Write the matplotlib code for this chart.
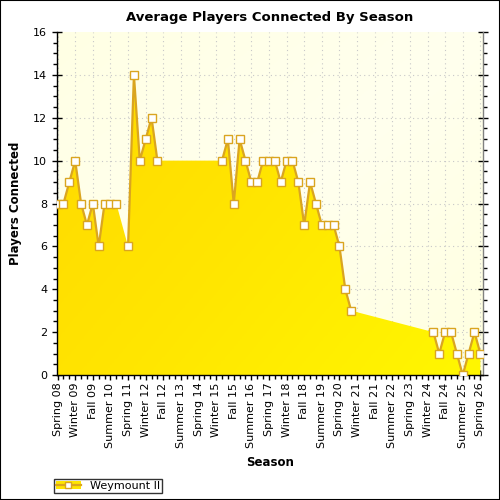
import numpy as np
import matplotlib
matplotlib.use("Agg")
import matplotlib.pyplot as plt
from matplotlib.patches import Rectangle, Patch
from matplotlib.lines import Line2D
from matplotlib.colors import LinearSegmentedColormap

seasons = [
    "Spring 08", "Summer 08", "Fall 08", "Winter 09",
    "Spring 09", "Summer 09", "Fall 09", "Winter 10",
    "Spring 10", "Summer 10", "Fall 10", "Winter 11",
    "Spring 11", "Summer 11", "Fall 11", "Winter 12",
    "Spring 12", "Summer 12", "Fall 12", "Winter 13",
    "Spring 13", "Summer 13", "Fall 13", "Winter 14",
    "Spring 14", "Summer 14", "Fall 14", "Winter 15",
    "Spring 15", "Summer 15", "Fall 15", "Winter 16",
    "Spring 16", "Summer 16", "Fall 16", "Winter 17",
    "Spring 17", "Summer 17", "Fall 17", "Winter 18",
    "Spring 18", "Summer 18", "Fall 18", "Winter 19",
    "Spring 19", "Summer 19", "Fall 19", "Winter 20",
    "Spring 20", "Summer 20", "Fall 20", "Winter 21",
    "Spring 21", "Summer 21", "Fall 21", "Winter 22",
    "Spring 22", "Summer 22", "Fall 22", "Winter 23",
    "Spring 23", "Summer 23", "Fall 23", "Winter 24",
    "Spring 24", "Summer 24", "Fall 24", "Winter 25",
    "Spring 25", "Summer 25", "Fall 25", "Winter 26",
    "Spring 26",
]

players = [
    8, 8, 9, 10, 8, 7, 8, 6, 8, 8, 8, None,
    6, 14, 10, 11, 12, 10, None, None, None, None, None, None,
    None, None, None, None, 10, 11, 8, 11, 10, 9, 9, 10,
    10, 10, 9, 10, 10, 9, 7, 9, 8, 7, 7, 7,
    6, 4, 3, None, None, None, None, None, None, None, None, None,
    None, None, None, None, 2, 1, 2, 2, 1, 0, 1, 2,
    1,
]

series_name = "Weymount II"
title = "Average Players Connected By Season"
xlabel = "Season"
ylabel = "Players Connected"

x = np.arange(len(seasons), dtype=float)
y = np.array([np.nan if v is None else v for v in players], dtype=float)
valid = ~np.isnan(y)

fig = plt.figure(figsize=(5, 5), dpi=100)
fig.patch.set_facecolor("white")
ax = fig.add_axes([57 / 500, 125 / 500, 426 / 500, 343 / 500])

xmin, xmax = -0.1, 72.45
ymin, ymax = 0, 16
ax.set_xlim(xmin, xmax)
ax.set_ylim(ymin, ymax)

# background gradient
bg_cmap = LinearSegmentedColormap.from_list("bg", ["#FFFFE4", "#FFFFEE", "#FFFFE0"])
gx, gy = np.meshgrid(np.linspace(0, 1, 200), np.linspace(0, 1, 200))
ax.imshow(gx * 0.5 + gy * 0.5, cmap=bg_cmap, extent=[xmin, xmax, ymin, ymax],
          aspect="auto", origin="upper", zorder=0)

# grid
for t in range(0, len(seasons), 3):
    ax.axvline(t, color="#C8C8C8", lw=0.8, ls=(0, (1, 3)), zorder=1)
for t in range(2, 16, 2):
    ax.axhline(t, color="#C8C8C8", lw=0.8, ls=(0, (1, 3)), zorder=1)

# area with gradient fill
poly = ax.fill_between(x[valid], y[valid], 0, color="none", lw=0, zorder=2)
fill_cmap = LinearSegmentedColormap.from_list("fill", ["#FFD800", "#FFE600", "#FFF700"])
img = ax.imshow(gx * 0.6 + (1 - gy) * 0.4, cmap=fill_cmap,
                extent=[xmin, xmax, ymin, ymax], aspect="auto", origin="lower", zorder=2)
img.set_clip_path(poly.get_paths()[0], transform=ax.transData)

# line + markers
ax.plot(x, y, color="#DAA520", lw=1.6, zorder=3, solid_joinstyle="miter")
ax.plot(x[valid], y[valid], ls="none", marker="s", ms=5.2, mfc="white",
        mec="#DAA520", mew=1.0, zorder=4)

# ticks
ax.set_xticks(np.arange(0, len(seasons), 3))
ax.set_xticklabels(seasons[::3], rotation=90, fontsize=8)
ax.set_xticks(np.arange(0, len(seasons)), minor=True)
ax.set_yticks(np.arange(0, 17, 2))
ax.set_yticklabels([str(v) for v in range(0, 17, 2)], fontsize=8)
ax.set_yticks(np.arange(0, 16.01, 0.5), minor=True)
ax.tick_params(axis="both", which="major", direction="inout", length=7, width=1, color="black")
ax.tick_params(axis="both", which="minor", direction="out", length=3, width=1, color="black")
ax.tick_params(axis="y", which="both", right=True)
ax.tick_params(axis="x", which="major", pad=2)

ax.spines["top"].set_visible(False)
for s in ["left", "bottom", "right"]:
    ax.spines[s].set_color("black")
    ax.spines[s].set_linewidth(1)
ax.spines["right"].set_color("#808080")

ax.set_title(title, fontsize=9.5, fontweight="bold", pad=8)
ax.set_xlabel(xlabel, fontsize=8.5, fontweight="bold", labelpad=6)
ax.set_ylabel(ylabel, fontsize=8.5, fontweight="bold", labelpad=8)

# legend
patch = Patch(facecolor="#FFE600", edgecolor="none")
line = Line2D([], [], color="#DAA520", lw=1.6, marker="s", ms=4.6, mfc="white",
              mec="#DAA520", mew=1.0)
leg = fig.legend(handles=[(patch, line)], labels=[series_name], loc="lower left",
                 bbox_to_anchor=(54 / 500, 7 / 500), fontsize=8, frameon=True,
                 fancybox=False, borderpad=0.2, handlelength=2.2, handletextpad=0.8,
                 borderaxespad=0)
leg.get_frame().set_edgecolor("black")
leg.get_frame().set_linewidth(1)

# figure border
fig.add_artist(Rectangle((0, 0), 1, 1, transform=fig.transFigure, fill=False,
                         edgecolor="black", lw=1.5))

fig.savefig("out.png", dpi=100)
